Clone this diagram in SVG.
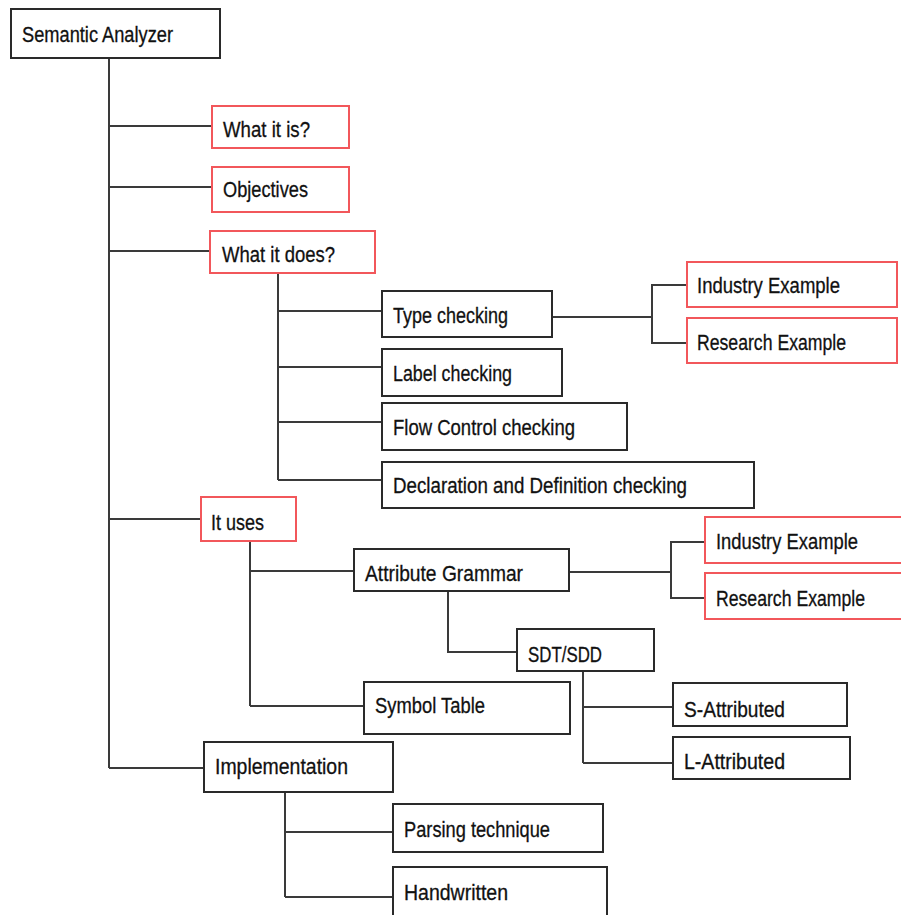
<svg xmlns="http://www.w3.org/2000/svg" width="901" height="915" viewBox="0 0 901 915">
  <style>
    .box { fill: #ffffff; stroke: #2a2a2a; stroke-width: 2; }
    .red { fill: #ffffff; stroke: #f2575b; stroke-width: 2; }
    .lbl { font-family: "Liberation Sans Narrow", "Liberation Sans", Arial, sans-serif; font-size: 22px; fill: #111111; stroke: #111111; stroke-width: 0.3; }
    .wire { fill: none; stroke: #3a3a3a; stroke-width: 2; }
  </style>
  <rect width="901" height="915" fill="#ffffff"/>

  <!-- connectors -->
  <g id="connectors" class="wire">
    <!-- main trunk -->
    <path d="M109 58 V768"/>
    <path d="M109 126 H212"/>
    <path d="M109 187 H212"/>
    <path d="M108 251 H210"/>
    <path d="M109 519 H201"/>
    <path d="M109 768 H204"/>
    <!-- what it does -->
    <path d="M278 273 V480"/>
    <path d="M278 311 H382"/>
    <path d="M278 367 H382"/>
    <path d="M278 422 H382"/>
    <path d="M278 480 H382"/>
    <!-- type checking examples -->
    <path d="M552 317 H652"/>
    <path d="M687 285 H652 V343 H687"/>
    <!-- it uses -->
    <path d="M250 541 V706"/>
    <path d="M250 571 H354"/>
    <path d="M250 706 H364"/>
    <!-- attribute grammar examples -->
    <path d="M569 572 H671"/>
    <path d="M705 542 H671 V598 H705"/>
    <!-- attribute grammar to SDT/SDD -->
    <path d="M448 591 V652 H517"/>
    <!-- SDT/SDD children -->
    <path d="M583 671 V763"/>
    <path d="M583 707 H673"/>
    <path d="M583 763 H673"/>
    <!-- implementation -->
    <path d="M285 792 V897"/>
    <path d="M285 832 H393"/>
    <path d="M285 897 H393"/>
  </g>

  <g id="semantic-analyzer">
    <rect class="box" x="11" y="9" width="209" height="49"/>
    <text class="lbl" x="22" y="42" textLength="151" lengthAdjust="spacingAndGlyphs">Semantic Analyzer</text>
  </g>
  <g id="what-it-is">
    <rect class="red" x="212" y="106" width="137" height="42"/>
    <text class="lbl" x="223" y="137" textLength="87" lengthAdjust="spacingAndGlyphs">What it is?</text>
  </g>
  <g id="objectives">
    <rect class="red" x="212" y="167" width="137" height="45"/>
    <text class="lbl" x="223" y="197" textLength="85" lengthAdjust="spacingAndGlyphs">Objectives</text>
  </g>
  <g id="what-it-does">
    <rect class="red" x="210" y="231" width="165" height="42"/>
    <text class="lbl" x="222" y="262" textLength="113" lengthAdjust="spacingAndGlyphs">What it does?</text>
  </g>
  <g id="type-checking">
    <rect class="box" x="382" y="291" width="170" height="46"/>
    <text class="lbl" x="393" y="323" textLength="115" lengthAdjust="spacingAndGlyphs">Type checking</text>
  </g>
  <g id="type-industry-example">
    <rect class="red" x="687" y="262" width="210" height="45"/>
    <text class="lbl" x="697" y="293" textLength="143" lengthAdjust="spacingAndGlyphs">Industry Example</text>
  </g>
  <g id="type-research-example">
    <rect class="red" x="687" y="318" width="210" height="45"/>
    <text class="lbl" x="697" y="350" textLength="149" lengthAdjust="spacingAndGlyphs">Research Example</text>
  </g>
  <g id="label-checking">
    <rect class="box" x="382" y="349" width="180" height="47"/>
    <text class="lbl" x="393" y="381" textLength="119" lengthAdjust="spacingAndGlyphs">Label checking</text>
  </g>
  <g id="flow-control-checking">
    <rect class="box" x="382" y="403" width="245" height="47"/>
    <text class="lbl" x="393" y="435" textLength="182" lengthAdjust="spacingAndGlyphs">Flow Control checking</text>
  </g>
  <g id="declaration-checking">
    <rect class="box" x="382" y="462" width="372" height="46"/>
    <text class="lbl" x="393" y="493" textLength="294" lengthAdjust="spacingAndGlyphs">Declaration and Definition checking</text>
  </g>
  <g id="it-uses">
    <rect class="red" x="201" y="497" width="95" height="44"/>
    <text class="lbl" x="211" y="530" textLength="53" lengthAdjust="spacingAndGlyphs">It uses</text>
  </g>
  <g id="attribute-grammar">
    <rect class="box" x="354" y="549" width="215" height="42"/>
    <text class="lbl" x="365" y="581" textLength="158" lengthAdjust="spacingAndGlyphs">Attribute Grammar</text>
  </g>
  <g id="grammar-industry-example">
    <rect class="red" x="705" y="517" width="205" height="46"/>
    <text class="lbl" x="716" y="549" textLength="142" lengthAdjust="spacingAndGlyphs">Industry Example</text>
  </g>
  <g id="grammar-research-example">
    <rect class="red" x="705" y="573" width="205" height="46"/>
    <text class="lbl" x="716" y="606" textLength="149" lengthAdjust="spacingAndGlyphs">Research Example</text>
  </g>
  <g id="sdt-sdd">
    <rect class="box" x="517" y="629" width="137" height="42"/>
    <text class="lbl" x="528" y="662" textLength="74" lengthAdjust="spacingAndGlyphs">SDT/SDD</text>
  </g>
  <g id="symbol-table">
    <rect class="box" x="364" y="682" width="206" height="52"/>
    <text class="lbl" x="375" y="713" textLength="110" lengthAdjust="spacingAndGlyphs">Symbol Table</text>
  </g>
  <g id="s-attributed">
    <rect class="box" x="673" y="683" width="174" height="43"/>
    <text class="lbl" x="684" y="717" textLength="101" lengthAdjust="spacingAndGlyphs">S-Attributed</text>
  </g>
  <g id="l-attributed">
    <rect class="box" x="673" y="737" width="177" height="42"/>
    <text class="lbl" x="684" y="769" textLength="101" lengthAdjust="spacingAndGlyphs">L-Attributed</text>
  </g>
  <g id="implementation">
    <rect class="box" x="204" y="742" width="189" height="50"/>
    <text class="lbl" x="215" y="774" textLength="133" lengthAdjust="spacingAndGlyphs">Implementation</text>
  </g>
  <g id="parsing-technique">
    <rect class="box" x="393" y="804" width="210" height="48"/>
    <text class="lbl" x="404" y="837" textLength="146" lengthAdjust="spacingAndGlyphs">Parsing technique</text>
  </g>
  <g id="handwritten">
    <rect class="box" x="393" y="867" width="214" height="52"/>
    <text class="lbl" x="404" y="900" textLength="104" lengthAdjust="spacingAndGlyphs">Handwritten</text>
  </g>
</svg>
